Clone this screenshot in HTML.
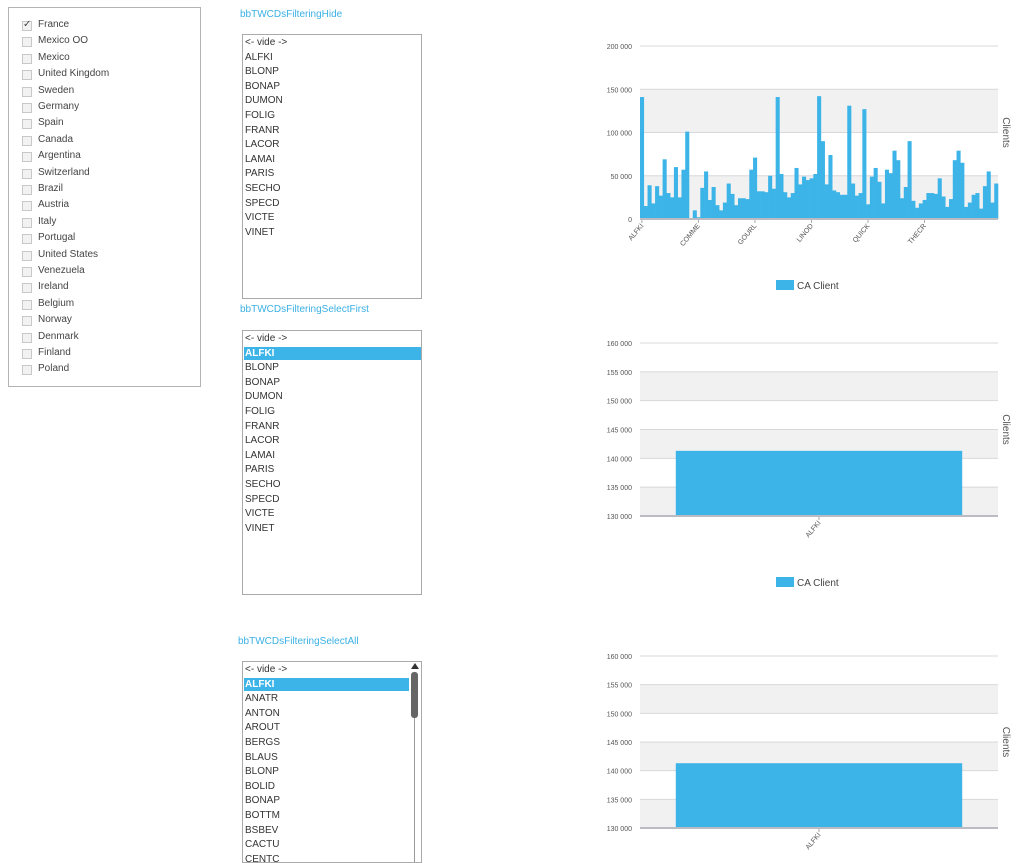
<!DOCTYPE html>
<html><head><meta charset="utf-8">
<style>
body{margin:0;width:1024px;height:855px;overflow:hidden;background:#fff;font-family:"Liberation Sans",sans-serif;font-size:10px;color:#333;position:relative}
.abs{position:absolute}
.panel{left:8px;top:7px;width:191px;height:378px;border:1px solid #b4b4b4}
.cb{position:absolute;left:13px;width:8px;height:8px;border:1px solid #c8c8c8;background:#f2f2f2}
.cbl{position:absolute;left:29px;font-size:10px;color:#444}
.title{color:#3ab0e4;font-size:10px}
.lb{border:1px solid #aaa;width:178px;overflow:hidden}
.it{position:absolute;left:2px;font-size:10px;color:#333;height:13px;line-height:13px}
.sel{background:#3cb4e8;color:#fff;font-weight:bold;left:1px;width:176px;padding-left:1px}
</style></head><body>
<div class="abs panel" id="countries"></div>

<div class="abs title" style="left:240px;top:9px">bbTWCDsFilteringHide</div>
<div class="abs lb" style="left:242px;top:34px;height:263px" id="lb1"></div>
<div class="abs title" style="left:240px;top:304px">bbTWCDsFilteringSelectFirst</div>
<div class="abs lb" style="left:242px;top:330px;height:263px" id="lb2"></div>
<div class="abs title" style="left:238px;top:636px">bbTWCDsFilteringSelectAll</div>
<div class="abs lb" style="left:242px;top:661px;height:200px" id="lb3">
<div class="abs" style="left:167px;top:0;width:10px;height:200px;background:#fff">
<div class="abs" style="left:4px;top:14px;width:1px;height:190px;background:#999"></div>
<div class="abs" style="left:1px;top:1px;width:0;height:0;border-left:4px solid transparent;border-right:4px solid transparent;border-bottom:6px solid #333"></div>
<div class="abs" style="left:1px;top:10px;width:7px;height:46px;background:#666;border-radius:3px"></div>
</div></div>

<svg class="abs" style="left:0;top:0" width="1024" height="855" id="svg"></svg>

<script>
const countries=["France","Mexico OO","Mexico","United Kingdom","Sweden","Germany","Spain","Canada","Argentina","Switzerland","Brazil","Austria","Italy","Portugal","United States","Venezuela","Ireland","Belgium","Norway","Denmark","Finland","Poland"];
const list1=["<- vide ->","ALFKI","BLONP","BONAP","DUMON","FOLIG","FRANR","LACOR","LAMAI","PARIS","SECHO","SPECD","VICTE","VINET"];
const list3=["<- vide ->","ALFKI","ANATR","ANTON","AROUT","BERGS","BLAUS","BLONP","BOLID","BONAP","BOTTM","BSBEV","CACTU","CENTC"];

// Chart 1 data
const c1Values=[141,15,39,18,38,27,69,30,25,60,25,57,101,0,10,2,36,55,22,37,16,10,19,41,29,16,24,24,23,57,71,32,32,31,50,35,141,52,31,25,30,59,40,49,45,47,52,142,90,40,74,33,31,28,28,131,41,27,30,127,17,49,59,43,18,57,53,79,68,24,37,90,21,13,18,22,30,30,29,47,26,14,23,68,79,65,14,19,28,30,12,38,55,19,41].map(v=>v*1000);
const c1Labels=["ALFKI","COMME","GOURL","LINOD","QUICK","THECR"];
const c1LabelIdx=[0,15,30,45,60,75];
const c1Ticks=[0,50000,100000,150000,200000];
// Chart 2/3 data
const c2Cats=["ALFKI"];
const c2Values=[141300];
const c3Values=[141300];
const c23Ticks=[130000,135000,140000,145000,150000,155000,160000];

const NS="http://www.w3.org/2000/svg";
const svg=document.getElementById('svg');
function mk(tag,attrs,parent){const e=document.createElementNS(NS,tag);for(const k in attrs)e.setAttribute(k,attrs[k]);(parent||svg).appendChild(e);return e;}
function fmt(v){return String(v).replace(/\B(?=(\d{3})+(?!\d))/g," ");}

// countries
const cp=document.getElementById('countries');
countries.forEach((c,i)=>{
  const b=document.createElement('div');b.className='cb';b.style.top=(13+i*16.4)+'px';
  
  
  if(i===0){b.innerHTML='<span style="position:absolute;left:0;top:-3px;font-size:10px;color:#444">✓</span>';}
  cp.appendChild(b);
  const l=document.createElement('div');l.className='cbl';l.style.top=(11+i*16.4)+'px';l.textContent=c;
  
  
  cp.appendChild(l);
});
function fillList(id,items,selIdx){
  const lb=document.getElementById(id);
  items.forEach((t,i)=>{
    const d=document.createElement('div');d.className='it'+(i===selIdx?' sel':'');
    d.style.top=(1+i*14.6)+'px';d.textContent=t;
    if(id==='lb3')d.style.width=(i===selIdx?'164px':'');
    
    
    lb.appendChild(d);
  });
}
fillList('lb1',list1,-1);fillList('lb2',list1,1);fillList('lb3',list3,1);

function chart(o){
  const g=mk('g',{});
  
  
  const x0=640,x1=998,min=o.ticks[0],max=o.ticks[o.ticks.length-1];
  const y=v=>o.yb-(v-min)/(max-min)*(o.yb-o.yt);
  for(let i=0;i<o.ticks.length-1;i++){
    if((o.ticks.length-2-i)%2===1||(o.band&&i%2===0)){}
  }
  o.bands.forEach(i=>{mk('rect',{x:x0,y:y(o.ticks[i+1]),width:x1-x0,height:y(o.ticks[i])-y(o.ticks[i+1]),fill:'#f1f1f1'},g);});
  o.ticks.forEach(t=>{
    mk('line',{x1:x0,x2:x1,y1:y(t),y2:y(t),stroke:'#d8d8dc','stroke-width':1},g);
    const tx=mk('text',{x:632,y:y(t)+3,'text-anchor':'end','font-size':7,fill:'#555','font-family':'Liberation Sans'},g);tx.textContent=fmt(t);
  });
  o.draw(g,y,x0,x1);
  mk('line',{x1:x0,x2:x1,y1:o.yb,y2:o.yb,stroke:'#bbbbc4','stroke-width':2},g);
  const at=mk('text',{transform:`translate(1003,${(o.yt+o.yb)/2}) rotate(90)`,'text-anchor':'middle','font-size':10,fill:'#555','font-family':'Liberation Sans'},g);at.textContent='Clients';
  if(o.legend!=null){
    mk('rect',{x:776,y:o.legend-5,width:18,height:10,fill:'#3cb4e8'},g);
    const lt=mk('text',{x:797,y:o.legend+4,'font-size':10,fill:'#444','font-family':'Liberation Sans'},g);lt.textContent='CA Client';
  }
}
chart({name:'chart-all-clients',yt:46,yb:219,ticks:c1Ticks,bands:[0,2],legend:285,draw:(g,y,x0,x1)=>{
  const w=(x1-x0)/c1Values.length;
  c1Values.forEach((v,i)=>{const r=mk('rect',{x:x0+i*w,y:y(v),width:w+0.3,height:219-y(v),fill:'#3cb4e8'},g);
    
    });
  c1LabelIdx.forEach((idx,k)=>{const lx=x0+idx*w+w/2;
    mk('line',{x1:lx,x2:lx,y1:219,y2:223,stroke:'#aaa'},g);
    const t=mk('text',{transform:`translate(${lx+2},${226}) rotate(-50)`,'text-anchor':'end','font-size':7,fill:'#555','font-family':'Liberation Sans'},g);t.textContent=c1Labels[k];});
}});
function single(name,yt,yb,vals,legend){
  chart({name,yt,yb,ticks:c23Ticks,bands:[0,2,4],legend,draw:(g,y,x0,x1)=>{
    const bw=(x1-x0)/c2Cats.length;
    vals.forEach((v,i)=>{const bx=x0+i*bw+bw*0.1;const r=mk('rect',{x:bx,y:y(v),width:bw*0.8,height:yb-y(v),fill:'#3cb4e8'},g);
      
      
      const lx=bx+bw*0.4;mk('line',{x1:lx,x2:lx,y1:yb,y2:yb+4,stroke:'#aaa'},g);
      const t=mk('text',{transform:`translate(${lx+2},${yb+7}) rotate(-50)`,'text-anchor':'end','font-size':7,fill:'#555','font-family':'Liberation Sans'},g);t.textContent=c2Cats[i];});
  }});
}
single('chart-select-first',343,516,c2Values,582);
single('chart-select-all',656,828,c3Values,null);
</script>
</body></html>
